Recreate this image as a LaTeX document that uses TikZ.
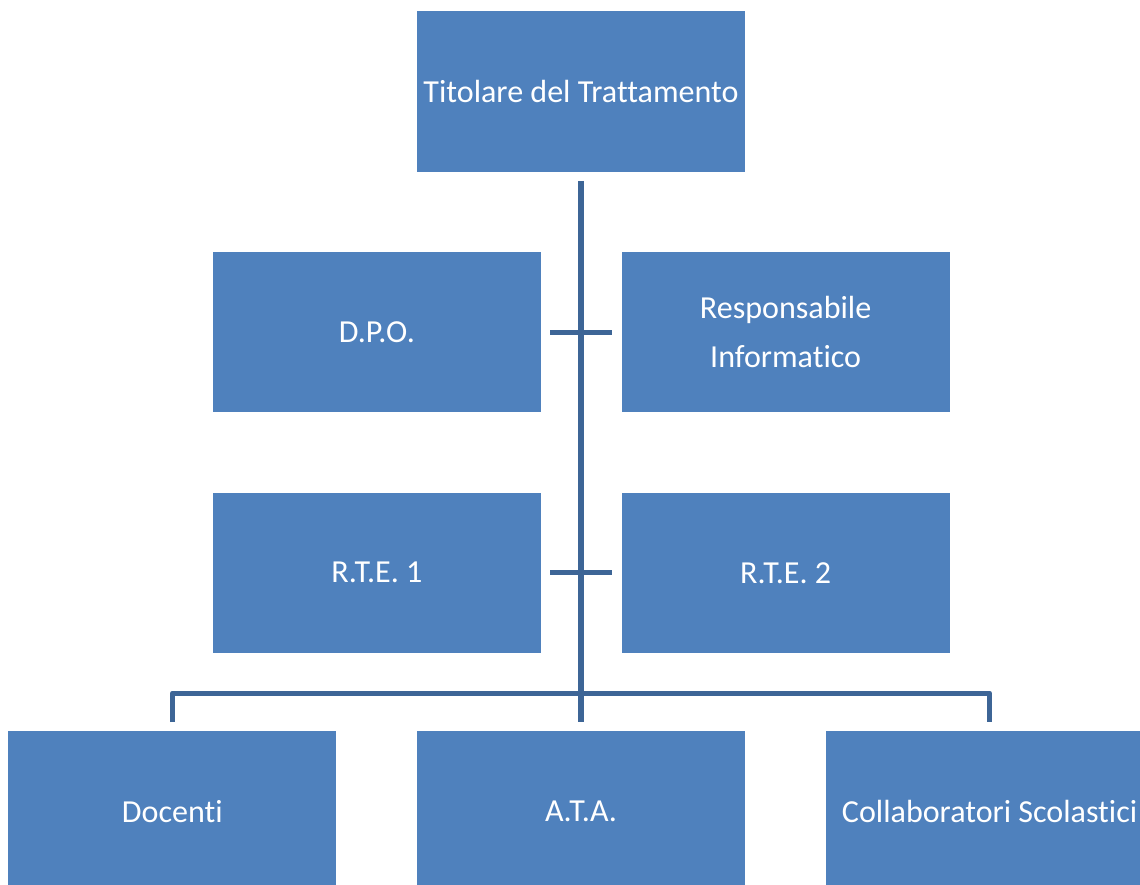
\documentclass[tikz,border=0pt]{standalone}
\usepackage{fontspec}
\setmainfont[Ligatures=NoCommon]{Carlito}
\usetikzlibrary{positioning}

\definecolor{blubox}{HTML}{4F81BD}
\definecolor{blulinea}{HTML}{3D6596}

\begin{document}
\begin{tikzpicture}[x=0.025cm,y=-0.025cm,align=center,node distance=2cm,
ufficio/.style={fill=blubox,text=white,minimum width=8.2cm,minimum height=4cm,inner sep=0pt,
  font=\fontsize{22.8}{35}\selectfont},
linea/.style={draw=blulinea,line width=3.6pt,line join=round}
]
\useasboundingbox (0,0) rectangle (1140,885);
\clip (0,0) rectangle (1140,885);
%--
\node[ufficio](tit) at (581,91.5){Titolare del Trattamento};
\node[ufficio,below=of tit,xshift=-5.1cm](dpo){D.P.O.};
\node[ufficio,right=of dpo](resp){Responsabile\\Informatico};
%--
\node[ufficio,below=of dpo](rte1){R.T.E. 1};
\node[ufficio,below=of resp](rte2){R.T.E. 2};
%--
\coordinate (m) at (tit|-rte1.south);
\node[ufficio,below=1.95cm of m](ata){A.T.A.};
\node[ufficio,left=of ata](doc){Docenti};
\node[ufficio,right=of ata](coll){Collaboratori Scolastici};
\coordinate[below=1cm of m] (barra);
%--
\draw[linea] ([yshift=-2.25mm]tit.south) -- ([yshift=2.25mm]ata.north);
\draw[linea] ([xshift=2.25mm]dpo.east) -- ([xshift=-2.25mm]resp.west);
\draw[linea] ([xshift=2.25mm]rte1.east) -- ([xshift=-2.25mm]rte2.west);
\draw[linea] ([yshift=2.25mm]doc.north) |- (barra) -| ([yshift=2.25mm]coll.north);
\end{tikzpicture}
\end{document}
